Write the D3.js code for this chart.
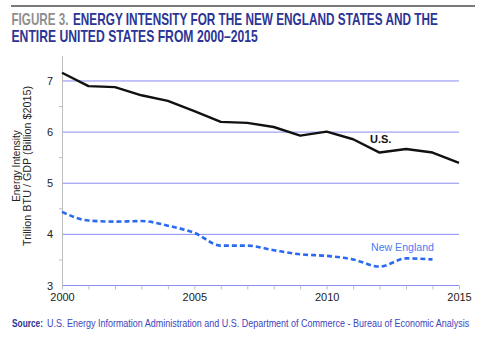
<!DOCTYPE html>
<html><head><meta charset="utf-8">
<script src="https://cdn.jsdelivr.net/npm/d3@7"></script>
<style>body{margin:0;background:#fff}svg{display:block}</style>
</head><body>
<svg id="c" width="480" height="340"></svg>
<script>
const years = [2000,2001,2002,2003,2004,2005,2006,2007,2008,2009,2010,2011,2012,2013,2014,2015];
const usValues = [7.16,6.90,6.88,6.72,6.61,6.41,6.20,6.18,6.10,5.93,6.01,5.86,5.60,5.67,5.60,5.40];
const neYears = [2000,2001,2002,2003,2004,2005,2006,2007,2008,2009,2010,2011,2012,2013,2014];
const neValues = [4.44,4.27,4.25,4.26,4.17,4.03,3.78,3.78,3.69,3.61,3.58,3.51,3.37,3.53,3.51];
const yTicks = [3,4,5,6,7];
const xTickLabels = [2000,2005,2010,2015];

const svg = d3.select("#c");
const x = d3.scaleLinear().domain([2000,2015]).range([62,459]);
const y = d3.scaleLinear().domain([3,7.5]).range([285.5,55.4]);
const font = "'Liberation Sans', Arial, Helvetica, sans-serif";
const narrow = "'Liberation Sans Narrow', 'Liberation Sans', Arial, sans-serif";

// text squeezed horizontally to a target width with a real transform
function fitText(str, x0, y0, w, attrs) {
  const t = svg.append("text").attr("x",0).attr("y",0).text(str);
  Object.entries(attrs).forEach(([k,v]) => t.attr(k,v));
  const nat = t.node().getComputedTextLength();
  t.attr("transform", `translate(${x0},${y0}) scale(${w/nat},1)`);
  return t;
}

// top rule
svg.append("line").attr("x1",11).attr("x2",475).attr("y1",6).attr("y2",6)
  .attr("stroke","#7a7a7a").attr("stroke-width",2);

// title
const tcol = "#2b3595";
const tAttr = {"font-family":narrow,"font-weight":"bold","font-size":16};
fitText("FIGURE 3.", 11.5, 25, 57, {...tAttr, fill:"#8f8f8f"});
fitText("ENERGY INTENSITY FOR THE NEW ENGLAND STATES AND THE", 73, 25, 365, {...tAttr, fill:tcol});
fitText("ENTIRE UNITED STATES FROM 2000\u20132015", 11.5, 42, 246.5, {...tAttr, fill:tcol});

// gridlines
svg.append("g").selectAll("line").data(yTicks).join("line")
  .attr("x1",62).attr("x2",459).attr("y1",d=>y(d)).attr("y2",d=>y(d))
  .attr("stroke","#8a8cf0").attr("stroke-width",1);

// y axis
const yAxis = d3.axisLeft(y).tickValues(yTicks).tickFormat(d3.format("d")).tickSize(0).tickPadding(9);
const gy = svg.append("g").attr("transform","translate(62,0)").call(yAxis);
gy.select(".domain").attr("stroke","#bdbdbd");
gy.selectAll("text").attr("font-family",font).attr("font-size",11).attr("fill","#222");
// minor ticks
svg.append("g").selectAll("line").data([3.5,4.5,5.5,6.5]).join("line")
  .attr("x1",59).attr("x2",62).attr("y1",d=>y(d)).attr("y2",d=>y(d)).attr("stroke","#bdbdbd");

// x axis
const xAxis = d3.axisBottom(x).tickValues(years).tickSize(4)
  .tickFormat(d => xTickLabels.includes(d) ? d : "").tickPadding(4);
const gx = svg.append("g").attr("transform","translate(0,285.5)").call(xAxis);
gx.select(".domain").remove();
gx.selectAll(".tick line").attr("stroke","#bdbdbd");
gx.selectAll("text").attr("font-family",font).attr("font-size",11).attr("fill","#222");

// y label
const yl = svg.append("g").attr("transform","translate(0,166) rotate(-90)");
yl.append("text").attr("x",0).attr("y",20).attr("text-anchor","middle").attr("font-family",font)
  .attr("font-size",10).attr("fill","#222").text("Energy Intensity");
yl.append("text").attr("x",0).attr("y",31).attr("text-anchor","middle").attr("font-family",font)
  .attr("font-size",10).attr("fill","#222").attr("textLength",160).attr("lengthAdjust","spacingAndGlyphs")
  .text("Trillion BTU / GDP (Billion $2015)");

// lines
const usLine = d3.line().x((d,i)=>x(years[i])).y(d=>y(d));
svg.append("path").attr("d",usLine(usValues)).attr("fill","none").attr("stroke","#111")
  .attr("stroke-width",2.4).attr("stroke-linejoin","round");
const neLine = d3.line().x((d,i)=>x(neYears[i])).y(d=>y(d)).curve(d3.curveMonotoneX);
svg.append("path").attr("d",neLine(neValues)).attr("fill","none").attr("stroke","#2a6af2")
  .attr("stroke-width",2.6).attr("stroke-dasharray","5,3");

// series labels
svg.append("text").attr("x",370).attr("y",143).attr("font-family",font).attr("font-weight","bold")
  .attr("font-size",11).attr("fill","#111").text("U.S.");
fitText("New England", 371, 251, 63, {"font-family":font,"font-size":11,fill:"#4a7cf2"});

// source
fitText("Source:", 12, 327, 31, {"font-family":narrow,"font-weight":"bold","font-size":11,fill:tcol});
fitText("U.S. Energy Information Administration and U.S. Department of Commerce - Bureau of Economic Analysis",
  47, 327, 423, {"font-family":narrow,"font-size":11,fill:"#3c44bd"});
</script>
</body></html>
